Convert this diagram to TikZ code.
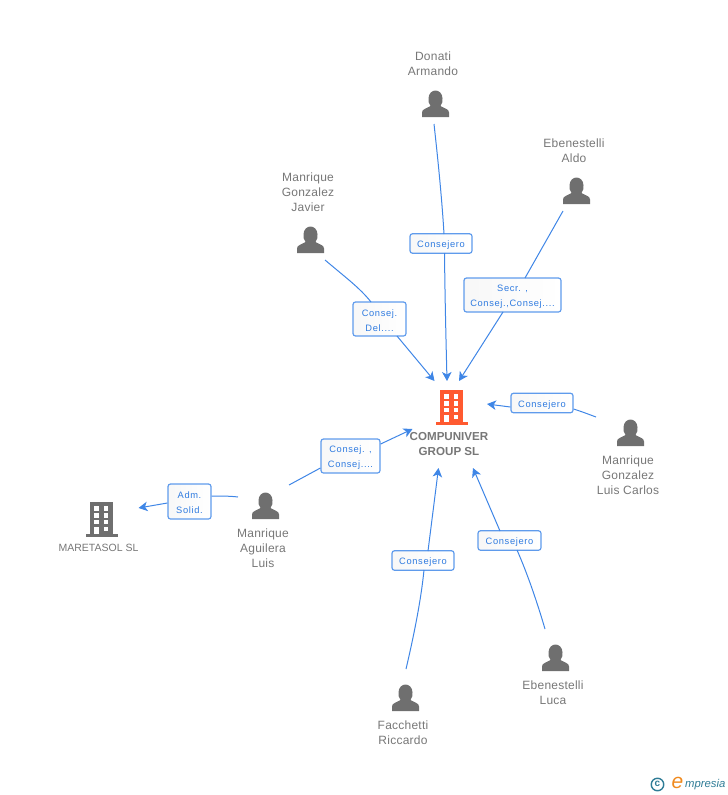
\documentclass[tikz,border=0pt]{standalone}
\usepackage{fontspec}
\setmainfont{Liberation Sans}
\newfontfamily\boxfont[LetterSpace=7]{Liberation Sans}
\newfontfamily\namefont[LetterSpace=2]{Liberation Sans}
\usetikzlibrary{arrows.meta}
\definecolor{linkblue}{HTML}{3F86E6}
\definecolor{boxblue}{HTML}{5F9BEC}
\definecolor{txtblue}{HTML}{2F7BE0}
\definecolor{icongrey}{HTML}{6F6F6F}
\definecolor{txtgrey}{HTML}{777777}
\definecolor{orangeb}{HTML}{FF5A30}
\definecolor{logoteal}{HTML}{2F7C96}
\definecolor{logoor}{HTML}{F08A1E}
\tikzset{
  x=1pt,y=-1pt,
  link/.style={draw=linkblue,line width=1pt},
  arrowlink/.style={link,-{Stealth[length=9pt,width=9.5pt,inset=2.5pt]}},
  rolebox/.style={draw=boxblue,line width=1.2pt,rounded corners=2.5pt,left color=black!3,right color=white,
     minimum height=19.5pt,inner sep=0pt,align=center,text=txtblue,font=\boxfont\fontsize{9.3}{15}\selectfont,
     execute at begin node={\rule{0pt}{10.5pt}}},
  twoline/.style={minimum height=34pt,execute at begin node={\rule{0pt}{25pt}}},
  personname/.style={text=txtgrey,align=center,inner sep=0pt,font=\namefont\fontsize{12}{15}\selectfont},
  firmname/.style={text=txtgrey,align=center,inner sep=0pt},
  pics/personicon/.style={code={
    \fill[icongrey] (-13.5,13.5) -- (-13.5,9) .. controls (-13.5,5.5) and (-9,5) .. (-5,2.5)
      .. controls (-7,0) and (-7,-2) .. (-7,-5) .. controls (-7,-10) and (-3.5,-13) .. (0,-13)
      .. controls (3.5,-13) and (7,-10) .. (7,-5) .. controls (7,-2) and (7,0) .. (5,2.5)
      .. controls (9,5) and (13.5,5.5) .. (13.5,9) -- (13.5,13.5) -- cycle;
  }},
  pics/buildingicon/.style={code={
    \fill[#1] (-11.5,0) rectangle (11.5,32);
    \fill[#1] (-15.5,32) rectangle (16,34.5);
    \foreach \wy in {4,11,17.5}{
      \fill[white] (-7.5,\wy) rectangle (-3,\wy+4.5);
      \fill[white] (2,\wy) rectangle (6.5,\wy+4.5);
    }
    \fill[white] (-7.5,24.5) rectangle (-2.5,32);
    \fill[white] (2,24.5) rectangle (6.5,29);
  }}
}
\begin{document}
\begin{tikzpicture}
\useasboundingbox (0,0) rectangle (728,795);
% icons
\pic at (435.5,103.5) {personicon};
\pic at (576.5,190.5) {personicon};
\pic at (310.5,239.5) {personicon};
\pic at (630.5,432.5) {personicon};
\pic at (265.5,505.5) {personicon};
\pic at (555.5,657.5) {personicon};
\pic at (405.5,697.5) {personicon};
\pic at (451.5,390) {buildingicon=orangeb};
\pic at (101.5,502) {buildingicon=icongrey};
% names
\node[personname] (donati) at (433,63.5) {Donati\\Armando};
\node[personname] (aldo) at (574,150.5) {Ebenestelli\\Aldo};
\node[personname] (javier) at (308,192) {Manrique\\Gonzalez\\Javier};
\node[personname] (lcarlos) at (628,475) {Manrique\\Gonzalez\\Luis Carlos};
\node[personname] (aguilera) at (263,548) {Manrique\\Aguilera\\Luis};
\node[personname] (luca) at (553,692.5) {Ebenestelli\\Luca};
\node[personname] (riccardo) at (403,732.5) {Facchetti\\Riccardo};
\node[firmname,font=\bfseries\fontsize{11.6}{15}\selectfont] (compu) at (449,444) {COMPUNIVER\\GROUP SL};
\node[firmname,font=\fontsize{10.5}{13}\selectfont] (mare) at (98.5,547.5) {MARETASOL SL};
% role boxes
\node[rolebox,minimum width=62pt] (b1) at (441,243.5) {Consejero};
\node[rolebox,twoline,minimum width=97pt] (b2) at (512.5,295) {Secr. ,\\Consej.,Consej....};
\node[rolebox,twoline,minimum width=53pt] (b3) at (379.5,319) {Consej.\\Del....};
\node[rolebox,minimum width=62pt] (b4) at (542,403) {Consejero};
\node[rolebox,twoline,minimum width=59pt] (b5) at (350.5,456) {Consej. ,\\Consej....};
\node[rolebox,twoline,minimum width=43pt,minimum height=35pt] (b6) at (189.5,501.5) {Adm.\\Solid.};
\node[rolebox,minimum width=63pt] (b7) at (509.5,540.5) {Consejero};
\node[rolebox,minimum width=62pt] (b8) at (423,560.5) {Consejero};
% free ends
\coordinate (s1) at (434,124);   \coordinate (e1) at (447,381);
\coordinate (s2) at (563,211);   \coordinate (e2) at (459,381);
\coordinate (s3) at (325,260);   \coordinate (e3) at (434.5,381);
\coordinate (s4) at (596,417);   \coordinate (e4) at (487,404);
\coordinate (s5) at (289,485);   \coordinate (e5) at (412.5,429);
\coordinate (s6) at (238,497);   \coordinate (e6) at (138.5,508);
\coordinate (s7) at (545,629);   \coordinate (e7) at (473,468);
\coordinate (s8) at (406,669);   \coordinate (e8) at (438.5,468);
% connectors
\draw[link] (s1) .. controls (438,160) and (442,200) .. (444,234);
\draw[arrowlink] (444.5,253) .. controls (445,300) and (446,340) .. (e1);
\draw[link] (s2) -- (525,278);
\draw[arrowlink] (503,312) -- (e2);
\draw[link] (s3) .. controls (345,277) and (360,288) .. (371,302);
\draw[arrowlink] (397,336) -- (e3);
\draw[link] (s4) .. controls (588,414) and (580,411) .. (b4.east |- 0,409);
\draw[arrowlink] (b4.west |- 0,407) -- (e4);
\draw[link] (s5) -- (b5.west |- 0,468);
\draw[arrowlink] (b5.east |- 0,444) -- (e5);
\draw[link] (s6) .. controls (230,496) and (220,496) .. (b6.east |- 0,496);
\draw[arrowlink] (b6.west |- 0,503) -- (e6);
\draw[link] (s7) .. controls (538,605) and (528,575) .. (517,550);
\draw[arrowlink] (500,531) -- (e7);
\draw[link] (s8) .. controls (414,635) and (421,600) .. (424,570);
\draw[arrowlink] (428,551) -- (e8);
% logo
\node[circle,draw=logoteal,line width=1.4pt,minimum size=12.5pt,inner sep=0pt,text=logoteal,font=\bfseries\fontsize{10}{10}\selectfont] (logoc) at (657.5,784.5) {\raisebox{0.5pt}{c}};
\node[text=logoor,inner sep=0pt,font=\itshape\fontsize{21}{21}\selectfont] (logoe) at (677.5,783) {e};
\node[text=logoteal,inner sep=0pt,anchor=west,font=\itshape\fontsize{11.3}{11.3}\selectfont] (logot) at (685,785) {mpresia};
\end{tikzpicture}
\end{document}
